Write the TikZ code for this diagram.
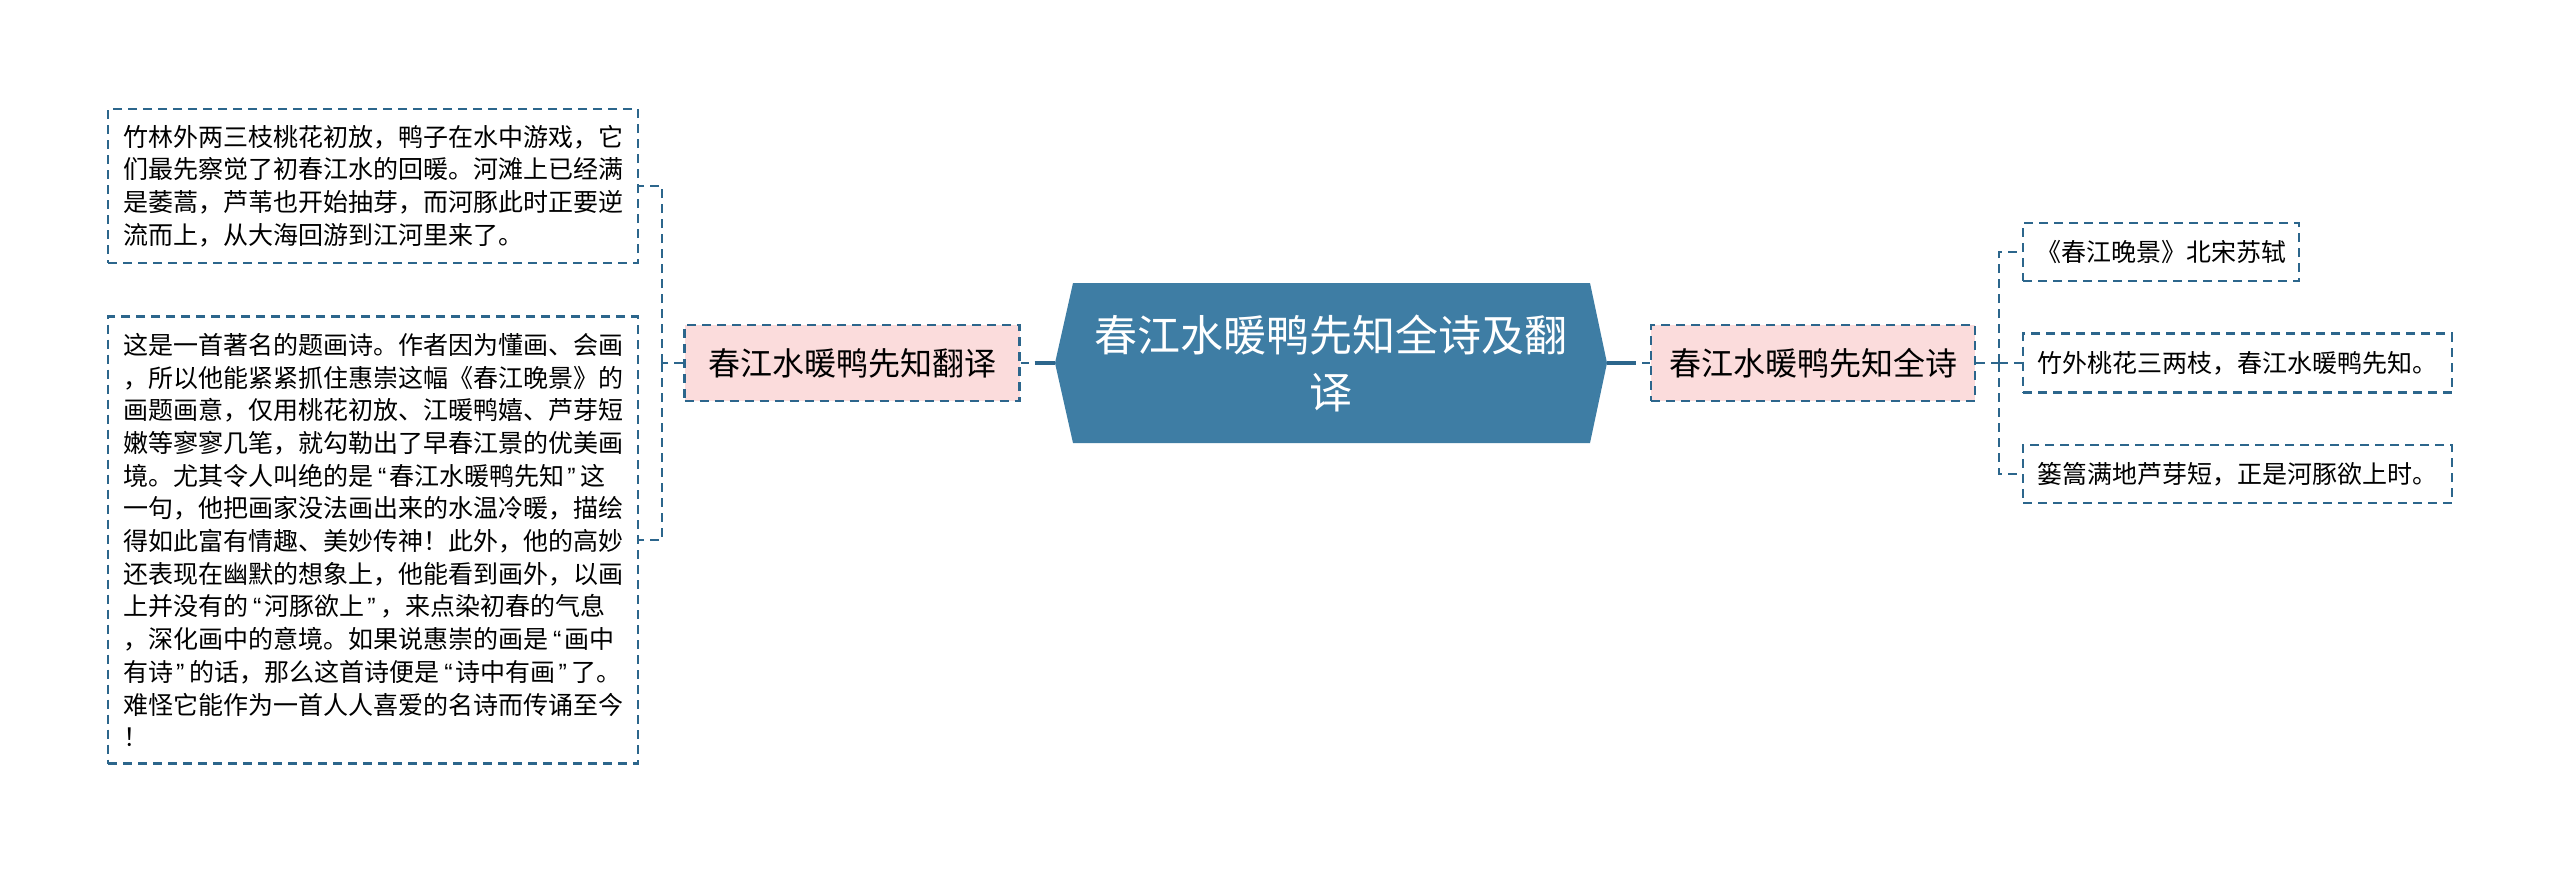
\documentclass[tikz,border=0pt]{standalone}
\usepackage{fontspec}
\newfontfamily\cjk{Noto Sans CJK SC}
\newfontfamily\latinq{Liberation Sans}
\newcommand{\qo}{{\hspace{5pt}\latinq “\hspace{3pt}}}
\newcommand{\qc}{{\hspace{3pt}\latinq ”\hspace{5pt}}}
\definecolor{lineblue}{HTML}{2C668C}
\definecolor{centerfill}{HTML}{3E7DA4}
\definecolor{pinkfill}{HTML}{FBDCDC}
\begin{document}
\begin{tikzpicture}[x=1pt,y=-1pt,
  dconn/.style={draw=lineblue,line width=2.4pt,dash pattern=on 9pt off 6pt},
  mconn/.style={draw=lineblue,line width=4pt},
  dbox/.style={draw=lineblue,line width=2.4pt,dash pattern=on 9pt off 6pt,fill=white,inner sep=0pt,text=black},
  pinkbox/.style={dbox,fill=pinkfill,font=\cjk\fontsize{32}{40}\selectfont},
  leafbox/.style={dbox,font=\cjk\fontsize{25}{32.7}\selectfont,align=left},
  centertext/.style={text=white,font=\cjk\fontsize{43}{57}\selectfont,align=center,inner sep=0pt}
]
\useasboundingbox (0,0) rectangle (2560,873);
\fill[white] (0,0) rectangle (2560,873);

% center hexagon
\coordinate (cl) at (1055,363);
\coordinate (cr) at (1607,363);
\fill[centerfill] (cl) -- (1073,283) -- (1590,283) -- (cr) -- (1590,443) -- (1073,443) -- cycle;
\node[centertext] (c) at (1331,363) {春江水暖鸭先知全诗及翻\\译};

% first-level nodes
\node[pinkbox,minimum width=335pt,minimum height=76pt] (ln) at (852,363) {春江水暖鸭先知翻译};
\node[pinkbox,minimum width=324pt,minimum height=76pt] (rn) at (1813,363) {春江水暖鸭先知全诗};

% left leaves
\node[leafbox,minimum width=530pt,minimum height=154pt] (lt) at (373,186) {竹林外两三枝桃花初放，鸭子在水中游戏，它\\们最先察觉了初春江水的回暖。河滩上已经满\\是萎蒿，芦苇也开始抽芽，而河豚此时正要逆\\流而上，从大海回游到江河里来了。};
\node[leafbox,minimum width=530pt,minimum height=447pt] (lb) at (373,540) {这是一首著名的题画诗。作者因为懂画、会画\\，所以他能紧紧抓住惠崇这幅《春江晚景》的\\画题画意，仅用桃花初放、江暖鸭嬉、芦芽短\\嫩等寥寥几笔，就勾勒出了早春江景的优美画\\境。尤其令人叫绝的是\qo 春江水暖鸭先知\qc 这\\一句，他把画家没法画出来的水温冷暖，描绘\\得如此富有情趣、美妙传神！此外，他的高妙\\还表现在幽默的想象上，他能看到画外，以画\\上并没有的\qo 河豚欲上\qc ，来点染初春的气息\\，深化画中的意境。如果说惠崇的画是\qo 画中\\有诗\qc 的话，那么这首诗便是\qo 诗中有画\qc 了。\\难怪它能作为一首人人喜爱的名诗而传诵至今\\！};

% right leaves
\node[leafbox,minimum width=276pt,minimum height=58pt] (r1) at (2161,252) {《春江晚景》北宋苏轼};
\node[leafbox,minimum width=429pt,minimum height=59pt] (r2) at (2237.5,363) {竹外桃花三两枝，春江水暖鸭先知。};
\node[leafbox,minimum width=429pt,minimum height=58pt] (r3) at (2237.5,474) {篓篙满地芦芽短，正是河豚欲上时。};

% main connectors
\draw[mconn,shorten <=14pt] (ln.east) -- (cl);
\draw[dconn] (ln.east) -- ++(8,0);
\draw[mconn,shorten >=14pt] (cr) -- (rn.west);
\draw[dconn] (rn.west) -- ++(-8,0);

% left bracket
\coordinate (lj) at (662,363);
\draw[dconn] (ln.west) -- (lj);
\draw[dconn] (lj) |- (lt.east);
\draw[dconn] (lj) |- (lb.east);

% right bracket
\coordinate (rj) at (1999,363);
\draw[dconn] (rn.east) -- (rj);
\draw[dconn] (rj) |- (r1.west);
\draw[dconn] (rj) -- (r2.west);
\draw[dconn] (rj) |- (r3.west);
\end{tikzpicture}
\end{document}
